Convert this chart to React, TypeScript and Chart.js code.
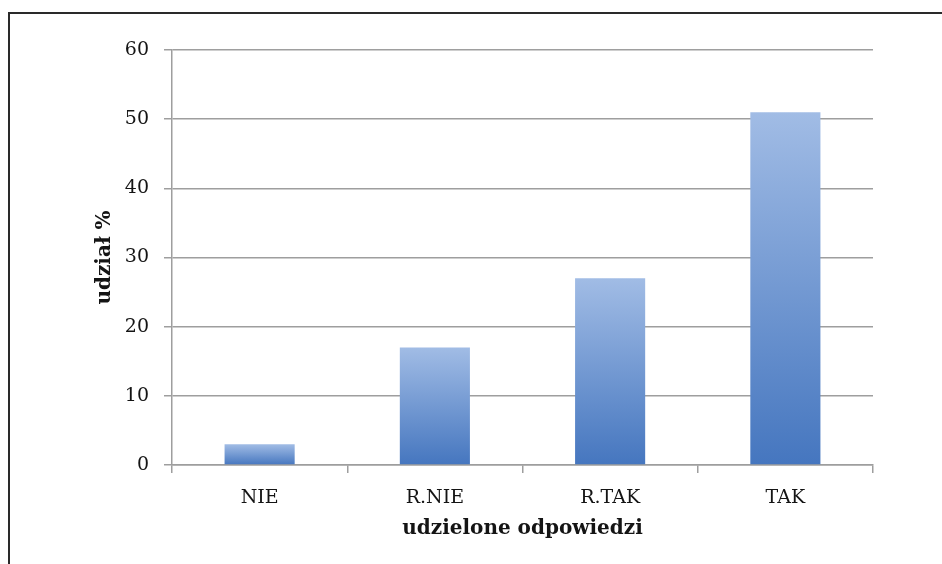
import React, { useEffect, useRef } from "react";
import { Chart, registerables } from "chart.js";

Chart.register(...registerables);

const categories = ["NIE", "R.NIE", "R.TAK", "TAK"];
const values = [3, 17, 27, 51];
const yTitle = "udział %";
const xTitle = "udzielone odpowiedzi";
const yMin = 0;
const yMax = 60;
const yStep = 10;

const FONT = "'DejaVu Serif', 'Liberation Serif', serif";
const GRID = "#9e9e9e";
const TEXT = "#141414";

export default function App() {
  const ref = useRef<HTMLCanvasElement | null>(null);

  useEffect(() => {
    if (!ref.current) return;
    const chart = new Chart(ref.current, {
      type: "bar",
      data: {
        labels: categories,
        datasets: [
          {
            data: values,
            barPercentage: 0.4,
            categoryPercentage: 1,
            borderWidth: 0,
            backgroundColor: (ctx: any) => {
              const ch = ctx.chart;
              const area = ch.chartArea;
              if (!area || ctx.type !== "data" || !ch.scales.y) return "#7097d3";
              const ys = ch.scales.y;
              const top = ys.getPixelForValue(ctx.raw as number);
              const bottom = ys.getPixelForValue(0);
              const g = ch.ctx.createLinearGradient(0, top, 0, bottom);
              g.addColorStop(0, "#a1bce5");
              g.addColorStop(1, "#4576bf");
              return g;
            },
          },
        ],
      },
      options: {
        animation: false,
        responsive: false,
        maintainAspectRatio: false,
        layout: { padding: { left: 0, top: 36, right: 69, bottom: 0 } },
        plugins: {
          legend: { display: false },
          tooltip: { enabled: false },
        },
        scales: {
          x: {
            offset: true,
            grid: {
              offset: true,
              drawOnChartArea: false,
              drawTicks: true,
              tickLength: 8,
              color: GRID,
              lineWidth: 1.5,
            },
            border: { color: GRID, width: 1.5 },
            ticks: {
              padding: 14,
              color: TEXT,
              font: { family: FONT, size: 19 },
            },
            title: {
              display: true,
              text: xTitle,
              color: TEXT,
              font: { family: FONT, size: 20, weight: "bold" },
              padding: { top: 0, bottom: 23 },
            },
            afterFit: (s: any) => {
              s.height = 99;
            },
          },
          y: {
            min: yMin,
            max: yMax,
            ticks: {
              stepSize: yStep,
              padding: 15,
              color: TEXT,
              font: { family: FONT, size: 19 },
            },
            grid: {
              color: GRID,
              lineWidth: 1.5,
              tickLength: 8,
              drawTicks: true,
            },
            border: { color: GRID, width: 1.5 },
            title: {
              display: true,
              text: yTitle,
              color: TEXT,
              font: { family: FONT, size: 20, weight: "bold" },
              padding: { top: 83, bottom: 0 },
            },
            afterFit: (s: any) => {
              s.width = 162;
            },
          },
        },
      },
    });
    return () => chart.destroy();
  }, []);

  return (
    <div
      style={{
        position: "absolute",
        left: 8,
        top: 12,
        width: 934,
        height: 552,
        boxSizing: "border-box",
        borderTop: "2px solid #2a2a2a",
        borderLeft: "2px solid #2a2a2a",
        background: "#fff",
      }}
    >
      <canvas ref={ref} width={932} height={550} style={{ display: "block" }} />
    </div>
  );
}
